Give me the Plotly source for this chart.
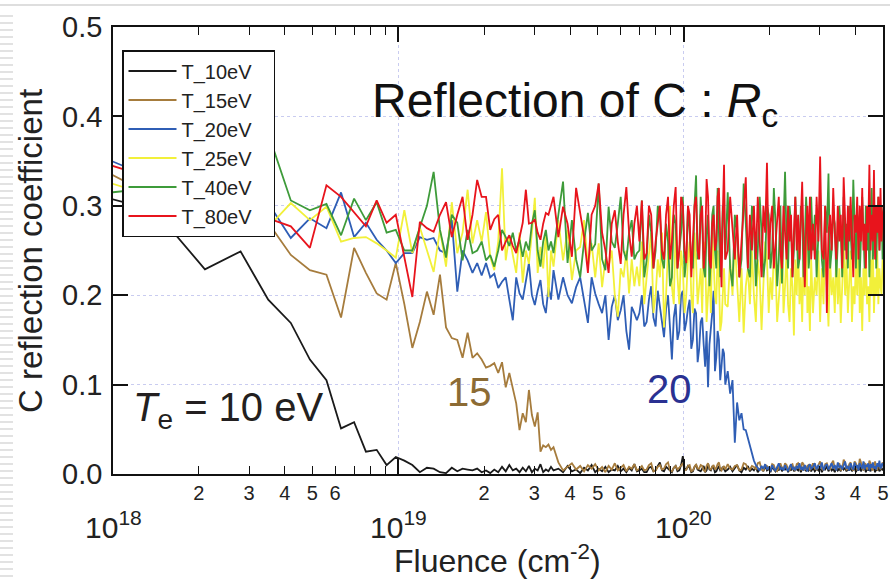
import plotly.graph_objects as go

# Fluence grid in units of 1e18 cm^-2
fluence_e18 = [
    0.7, 1.4, 2.1, 2.8, 3.5, 4.2, 4.9, 5.6, 6.3, 7.0, 7.7, 8.4, 9.1, 9.8, 10.5, 11.2, 11.9, 12.6, 13.3, 14.0,
    14.7, 15.4, 16.1, 16.8, 17.5, 18.2, 18.9, 19.6, 20.3, 21.0, 21.7, 22.4, 23.1, 23.8, 24.5, 25.2, 25.9, 26.6,
    27.3, 28.0, 28.7, 29.4, 30.1, 30.8, 31.5, 32.2, 32.9, 33.6, 34.3, 35.0,
    36.4, 37.8, 39.2, 40.6, 42.0, 43.4, 44.8, 46.2, 47.6, 49.0, 50.4, 51.8, 53.2, 54.6, 56.0, 57.4, 58.8, 60.2,
    61.6, 63.0, 64.4, 65.8, 67.2, 68.6,
    70.0, 71.4, 72.8, 74.2, 75.6, 77.0, 78.4, 79.8, 81.2, 82.6, 84.0, 85.4, 86.8, 88.2, 89.6, 91.0, 92.4,
    93.8, 95.2, 96.6, 98.0, 99.4, 100.8, 102.2, 103.6, 105.0, 106.4, 107.8, 109.2, 110.6, 112.0, 113.4, 114.8,
    116.2, 117.6, 119.0, 120.4, 121.8, 123.2, 124.6, 126.0, 127.4, 128.8, 130.2, 131.6, 133.0, 134.4, 135.8,
    137.2, 138.6, 140.0,
    142.8, 145.6, 148.4, 151.2, 154.0, 156.8, 159.6, 162.4, 165.2, 168.0, 170.8, 173.6, 176.4, 179.2, 182.0,
    184.8, 187.6, 190.4, 193.2, 196.0, 198.8, 201.6, 204.4, 207.2, 210.0, 212.8, 215.6, 218.4, 221.2, 224.0,
    226.8, 229.6, 232.4, 235.2, 238.0, 240.8, 243.6, 246.4, 249.2, 252.0, 254.8, 257.6, 260.4, 263.2, 266.0,
    268.8, 271.6, 274.4, 277.2, 280.0,
    284.2, 288.4, 292.6, 296.8, 301.0, 305.2, 309.4, 313.6, 317.8, 322.0, 326.2, 330.4, 334.6, 338.8, 343.0,
    347.2, 351.4, 355.6, 359.8, 364.0, 368.2, 372.4, 376.6, 380.8, 385.0, 389.2, 393.4, 397.6, 401.8, 406.0,
    410.2, 414.4, 418.6, 422.8, 427.0, 431.2, 435.4, 439.6, 443.8, 448.0, 452.2, 456.4, 460.6, 464.8, 469.0,
    473.2, 477.4, 481.6, 485.8, 490.0, 494.2, 498.4, 502.6,
]

r_10eV = [
    0.32, 0.295, 0.229, 0.249, 0.195, 0.169, 0.128, 0.105, 0.051, 0.058, 0.025, 0.027, 0.010, 0.019, 0.015,
    0.010, 0.002, 0.007, 0.006, 0.002, 0.001, 0.007, 0.003, 0.006, 0.005, 0.004, 0.006, 0.002, 0.004, 0.001,
    0.005, 0.002, 0.008, 0.003, 0.010, 0.004, 0.006, 0.002, 0.007, 0.003, 0.009, 0.002, 0.006, 0.004, 0.011,
    0.002, 0.005, 0.003, 0.008, 0.004,
    0.006, 0.002, 0.009, 0.003, 0.005, 0.001, 0.007, 0.004, 0.010, 0.002, 0.006, 0.003, 0.008, 0.002, 0.005,
    0.004, 0.009, 0.003, 0.006, 0.002, 0.007, 0.004, 0.011, 0.003,
    0.004, 0.006, 0.002, 0.002, 0.007, 0.008, 0.003, 0.004, 0.009, 0.013, 0.004, 0.003, 0.008, 0.006, 0.003,
    0.002, 0.007, 0.009, 0.003, 0.004, 0.010, 0.020, 0.006, 0.005, 0.009, 0.007, 0.002, 0.003, 0.008, 0.010,
    0.005, 0.004, 0.003, 0.006, 0.009, 0.002, 0.004, 0.012, 0.005, 0.004, 0.008, 0.007, 0.002, 0.003, 0.006,
    0.009, 0.004, 0.005, 0.008, 0.006, 0.003,
    0.005, 0.008, 0.003, 0.006, 0.010, 0.004, 0.002, 0.007, 0.005, 0.009, 0.003, 0.006, 0.004, 0.008, 0.002,
    0.005, 0.007, 0.003, 0.009, 0.004, 0.006, 0.002, 0.008, 0.005, 0.003, 0.007, 0.004, 0.010, 0.003, 0.006,
    0.005, 0.008, 0.002, 0.006, 0.004, 0.009, 0.003, 0.007, 0.005, 0.004, 0.008, 0.002, 0.006, 0.005, 0.009,
    0.003, 0.007, 0.004, 0.006, 0.003,
    0.007, 0.003, 0.006, 0.004, 0.008, 0.002, 0.006, 0.005, 0.009, 0.003, 0.007, 0.004, 0.006, 0.002, 0.008,
    0.004, 0.006, 0.003, 0.009, 0.005, 0.007, 0.003, 0.006, 0.004, 0.008, 0.003, 0.005, 0.007, 0.002, 0.006,
    0.004, 0.009, 0.003, 0.006, 0.005, 0.008, 0.002, 0.007, 0.004, 0.006, 0.003, 0.008, 0.005, 0.007, 0.002,
    0.006, 0.004, 0.009, 0.003, 0.005, 0.007, 0.004, 0.006,
]

r_15eV = [
    0.36, 0.31, 0.29, 0.272, 0.281, 0.245, 0.228, 0.223, 0.175, 0.253, 0.225, 0.202, 0.195, 0.236, 0.19,
    0.141, 0.17, 0.204, 0.178, 0.223, 0.164, 0.152, 0.150, 0.130, 0.158, 0.130, 0.135, 0.128, 0.119, 0.121,
    0.124, 0.113, 0.125, 0.097, 0.113, 0.095, 0.079, 0.049, 0.068, 0.058, 0.094, 0.066, 0.053, 0.069, 0.025,
    0.032, 0.030, 0.033, 0.027, 0.030,
    0.013, 0.004, 0.008, 0.012, 0.005, 0.009, 0.003, 0.010, 0.006, 0.011, 0.004, 0.008, 0.002, 0.009, 0.005,
    0.012, 0.004, 0.007, 0.010, 0.003, 0.008, 0.006, 0.011, 0.004,
    0.006, 0.009, 0.004, 0.005, 0.010, 0.012, 0.003, 0.004, 0.008, 0.010, 0.005, 0.006, 0.011, 0.013, 0.004,
    0.003, 0.007, 0.009, 0.005, 0.007, 0.010, 0.012, 0.004, 0.005, 0.009, 0.010, 0.003, 0.004, 0.008, 0.011,
    0.006, 0.006, 0.010, 0.009, 0.004, 0.003, 0.009, 0.012, 0.006, 0.005, 0.008, 0.010, 0.005, 0.007, 0.011,
    0.013, 0.006, 0.004, 0.007, 0.009, 0.005,
    0.011, 0.006, 0.005, 0.009, 0.010, 0.004, 0.005, 0.012, 0.011, 0.006, 0.005, 0.009, 0.008, 0.005, 0.012,
    0.013, 0.005, 0.004, 0.010, 0.009, 0.006, 0.005, 0.011, 0.010, 0.004, 0.003, 0.009, 0.012, 0.007, 0.006,
    0.012, 0.010, 0.005, 0.004, 0.010, 0.011, 0.005, 0.004, 0.011, 0.012, 0.006, 0.005, 0.013, 0.011, 0.005,
    0.006, 0.009, 0.010, 0.004, 0.008,
    0.012, 0.006, 0.005, 0.010, 0.014, 0.006, 0.004, 0.011, 0.012, 0.007, 0.005, 0.012, 0.015, 0.006, 0.005,
    0.010, 0.012, 0.004, 0.006, 0.016, 0.013, 0.005, 0.006, 0.011, 0.013, 0.006, 0.004, 0.014, 0.012, 0.005,
    0.006, 0.017, 0.013, 0.006, 0.005, 0.012, 0.011, 0.005, 0.007, 0.015, 0.012, 0.006, 0.004, 0.011, 0.014,
    0.006, 0.005, 0.012, 0.010, 0.005, 0.008, 0.013, 0.010,
]

r_20eV = [
    0.37, 0.33, 0.31, 0.29, 0.303, 0.264, 0.286, 0.275, 0.315, 0.265, 0.281, 0.262, 0.25, 0.236, 0.247,
    0.247, 0.265, 0.262, 0.264, 0.25, 0.247, 0.284, 0.204, 0.25, 0.239, 0.225, 0.236, 0.222, 0.236, 0.220,
    0.224, 0.208, 0.215, 0.220, 0.195, 0.172, 0.220, 0.202, 0.195, 0.215, 0.236, 0.200, 0.189, 0.205, 0.217,
    0.190, 0.180, 0.209, 0.195, 0.228,
    0.195, 0.220, 0.200, 0.191, 0.209, 0.220, 0.195, 0.169, 0.220, 0.202, 0.190, 0.180, 0.200, 0.150, 0.187,
    0.200, 0.172, 0.183, 0.200, 0.160, 0.139, 0.187, 0.180, 0.172,
    0.18, 0.200, 0.165, 0.170, 0.195, 0.210, 0.175, 0.165, 0.205, 0.190, 0.170, 0.153, 0.185, 0.200, 0.165,
    0.128, 0.175, 0.190, 0.150, 0.160, 0.200, 0.205, 0.160, 0.170, 0.185, 0.195, 0.140, 0.150, 0.185, 0.180,
    0.125, 0.140, 0.170, 0.175, 0.145, 0.120, 0.160, 0.097, 0.145, 0.160, 0.180, 0.205, 0.115, 0.130, 0.160,
    0.150, 0.105, 0.120, 0.140, 0.135, 0.100,
    0.115, 0.090, 0.105, 0.035, 0.080, 0.060, 0.068, 0.050, 0.049, 0.040, 0.030, 0.022, 0.015, 0.010, 0.007,
    0.004, 0.009, 0.006, 0.011, 0.005, 0.008, 0.003, 0.010, 0.006, 0.004, 0.009, 0.012, 0.005, 0.007, 0.004,
    0.010, 0.006, 0.003, 0.008, 0.011, 0.005, 0.007, 0.004, 0.009, 0.006, 0.012, 0.005, 0.008, 0.004, 0.010,
    0.006, 0.003, 0.009, 0.011, 0.006,
    0.008, 0.012, 0.005, 0.010, 0.006, 0.013, 0.004, 0.009, 0.011, 0.005, 0.008, 0.012, 0.006, 0.010, 0.004,
    0.013, 0.007, 0.009, 0.005, 0.011, 0.014, 0.006, 0.009, 0.004, 0.012, 0.008, 0.005, 0.013, 0.007, 0.010,
    0.004, 0.012, 0.009, 0.006, 0.014, 0.005, 0.010, 0.008, 0.012, 0.004, 0.011, 0.007, 0.013, 0.006, 0.009,
    0.005, 0.012, 0.008, 0.015, 0.006, 0.010, 0.012, 0.007,
]

r_25eV = [
    0.34, 0.31, 0.29, 0.28, 0.276, 0.303, 0.284, 0.299, 0.26, 0.264, 0.265, 0.258, 0.25, 0.242, 0.295,
    0.247, 0.276, 0.25, 0.226, 0.273, 0.232, 0.304, 0.247, 0.27, 0.318, 0.258, 0.284, 0.26, 0.293, 0.243,
    0.228, 0.26, 0.342, 0.239, 0.267, 0.245, 0.225, 0.27, 0.214, 0.25, 0.235, 0.27, 0.309, 0.225, 0.254,
    0.23, 0.27, 0.198, 0.25, 0.232,
    0.284, 0.239, 0.273, 0.217, 0.25, 0.254, 0.284, 0.232, 0.258, 0.22, 0.258, 0.209, 0.24, 0.232, 0.25,
    0.20, 0.176, 0.23, 0.220, 0.25, 0.202, 0.24, 0.21, 0.232,
    0.21, 0.26, 0.19, 0.22, 0.25, 0.27, 0.18, 0.2, 0.24, 0.22, 0.27, 0.164, 0.2, 0.25, 0.3,
    0.21, 0.19, 0.277, 0.22, 0.19, 0.25, 0.23, 0.18, 0.2, 0.24, 0.26, 0.2, 0.18, 0.27, 0.24,
    0.19, 0.21, 0.23, 0.18, 0.26, 0.25, 0.17, 0.2, 0.23, 0.18, 0.27, 0.24, 0.2, 0.19, 0.25,
    0.22, 0.16, 0.17, 0.21, 0.23, 0.19,
    0.187, 0.24, 0.2, 0.26, 0.22, 0.17, 0.23, 0.158, 0.21, 0.23, 0.19, 0.25, 0.2, 0.17, 0.24,
    0.22, 0.161, 0.21, 0.26, 0.24, 0.18, 0.22, 0.195, 0.25, 0.23, 0.17, 0.2, 0.22, 0.27, 0.18,
    0.21, 0.25, 0.19, 0.17, 0.23, 0.21, 0.155, 0.24, 0.2, 0.26, 0.19, 0.22, 0.17, 0.24, 0.2,
    0.28, 0.18, 0.21, 0.16, 0.24,
    0.18, 0.22, 0.2, 0.25, 0.17, 0.23, 0.19, 0.26, 0.21, 0.165, 0.24, 0.2, 0.22, 0.18, 0.25,
    0.19, 0.23, 0.169, 0.21, 0.26, 0.2, 0.24, 0.18, 0.22, 0.25, 0.17, 0.21, 0.19, 0.24, 0.2,
    0.27, 0.18, 0.22, 0.16, 0.23, 0.2, 0.25, 0.19, 0.21, 0.17, 0.24, 0.2, 0.26, 0.18, 0.22,
    0.2, 0.25, 0.19, 0.23, 0.21, 0.2, 0.24, 0.22,
]

r_40eV = [
    0.31, 0.32, 0.33, 0.36, 0.381, 0.306, 0.295, 0.302, 0.267, 0.308, 0.284, 0.304, 0.27, 0.273, 0.25,
    0.25, 0.276, 0.30, 0.338, 0.273, 0.242, 0.29, 0.281, 0.239, 0.273, 0.247, 0.25, 0.26, 0.239, 0.245,
    0.232, 0.25, 0.273, 0.265, 0.255, 0.27, 0.25, 0.262, 0.243, 0.26, 0.25, 0.28, 0.295, 0.25, 0.232,
    0.26, 0.273, 0.25, 0.26, 0.247,
    0.29, 0.327, 0.236, 0.284, 0.24, 0.22, 0.26, 0.292, 0.25, 0.257, 0.325, 0.24, 0.228, 0.299, 0.26,
    0.253, 0.28, 0.31, 0.25, 0.239, 0.27, 0.284, 0.24, 0.247,
    0.25, 0.306, 0.22, 0.239, 0.29, 0.27, 0.23, 0.25, 0.3, 0.29, 0.24, 0.23, 0.28, 0.26, 0.21,
    0.22, 0.29, 0.28, 0.23, 0.25, 0.27, 0.31, 0.22, 0.24, 0.3, 0.27, 0.24, 0.23, 0.3, 0.334,
    0.24, 0.25, 0.31, 0.28, 0.23, 0.22, 0.27, 0.29, 0.21, 0.24, 0.29, 0.30, 0.25, 0.23, 0.32,
    0.27, 0.22, 0.25, 0.3, 0.29, 0.24,
    0.315, 0.23, 0.21, 0.29, 0.27, 0.22, 0.24, 0.325, 0.28, 0.23, 0.22, 0.3, 0.28, 0.21, 0.25,
    0.31, 0.27, 0.22, 0.24, 0.3, 0.29, 0.23, 0.25, 0.32, 0.28, 0.21, 0.24, 0.3, 0.213, 0.27,
    0.338, 0.26, 0.23, 0.3, 0.28, 0.22, 0.25, 0.31, 0.27, 0.23, 0.24, 0.3, 0.29, 0.22, 0.26,
    0.31, 0.28, 0.23, 0.25, 0.31,
    0.25, 0.29, 0.22, 0.28, 0.315, 0.24, 0.22, 0.3, 0.27, 0.336, 0.23, 0.25, 0.29, 0.28, 0.22,
    0.26, 0.3, 0.27, 0.22, 0.31, 0.25, 0.28, 0.23, 0.3, 0.26, 0.24, 0.329, 0.27, 0.23, 0.29,
    0.28, 0.22, 0.26, 0.31, 0.27, 0.23, 0.3, 0.25, 0.29, 0.22, 0.28, 0.32, 0.24, 0.26, 0.3,
    0.23, 0.28, 0.31, 0.25, 0.27, 0.3, 0.24, 0.28,
]

r_80eV = [
    0.36, 0.33, 0.31, 0.30, 0.286, 0.277, 0.253, 0.323, 0.31, 0.292, 0.277, 0.306, 0.281, 0.29, 0.243,
    0.198, 0.282, 0.275, 0.271, 0.29, 0.304, 0.265, 0.29, 0.31, 0.262, 0.29, 0.329, 0.31, 0.31, 0.273,
    0.285, 0.29, 0.25, 0.26, 0.267, 0.255, 0.247, 0.265, 0.281, 0.318, 0.28, 0.281, 0.285, 0.27, 0.262,
    0.28, 0.292, 0.29, 0.30, 0.31,
    0.265, 0.299, 0.28, 0.243, 0.32, 0.29, 0.265, 0.225, 0.29, 0.30, 0.325, 0.27, 0.25, 0.225, 0.28,
    0.295, 0.26, 0.235, 0.29, 0.321, 0.27, 0.243, 0.28, 0.30,
    0.26, 0.306, 0.24, 0.247, 0.3, 0.29, 0.23, 0.26, 0.28, 0.30, 0.25, 0.24, 0.29, 0.31, 0.24,
    0.26, 0.3, 0.321, 0.23, 0.25, 0.31, 0.30, 0.25, 0.236, 0.3, 0.29, 0.22, 0.26, 0.3, 0.31,
    0.25, 0.24, 0.29, 0.30, 0.23, 0.25, 0.33, 0.31, 0.24, 0.23, 0.28, 0.29, 0.25, 0.26, 0.31,
    0.32, 0.25, 0.209, 0.29, 0.346, 0.24,
    0.25, 0.31, 0.27, 0.24, 0.29, 0.22, 0.26, 0.30, 0.332, 0.23, 0.29, 0.25, 0.3, 0.24, 0.31,
    0.26, 0.22, 0.3, 0.27, 0.348, 0.24, 0.28, 0.3, 0.23, 0.26, 0.29, 0.31, 0.25, 0.23, 0.3,
    0.27, 0.24, 0.3, 0.26, 0.29, 0.22, 0.27, 0.31, 0.25, 0.29, 0.24, 0.28, 0.327, 0.26, 0.209,
    0.27, 0.3, 0.25, 0.31, 0.24,
    0.28, 0.24, 0.31, 0.26, 0.355, 0.25, 0.24, 0.3, 0.18, 0.27, 0.29, 0.25, 0.32, 0.27, 0.24,
    0.3, 0.26, 0.29, 0.23, 0.332, 0.28, 0.24, 0.3, 0.26, 0.31, 0.25, 0.22, 0.29, 0.27, 0.31,
    0.24, 0.3, 0.26, 0.32, 0.25, 0.28, 0.23, 0.3, 0.27, 0.346, 0.25, 0.29, 0.26, 0.34, 0.24,
    0.3, 0.27, 0.31, 0.25, 0.32, 0.26, 0.29, 0.3,
]

series_names = ["T_10eV", "T_15eV", "T_20eV", "T_25eV", "T_40eV", "T_80eV"]
series_values = [r_10eV, r_15eV, r_20eV, r_25eV, r_40eV, r_80eV]
series_colors = ["#1a1a1a", "#A67C3D", "#2F5EB5", "#F2F03A", "#3E9B3A", "#E8141C"]

minor_labels = ["2", "3", "4", "5", "6", "", "", ""]
decades = [1e18, 1e19, 1e20]

FONT = "Liberation Sans, Arial, sans-serif"
W, H = 890, 581
L, R, T, B = 113, 7, 27, 107
PW, PH = W - L - R, H - T - B


def px_x(px):
    return (px - L) / PW


def px_y(py):
    return (H - B - py) / PH


fluence = [f * 1e18 for f in fluence_e18]

fig = go.Figure()
for name, vals, col in zip(series_names, series_values, series_colors):
    # trailing no-break spaces only widen the legend box to the reference's width
    fig.add_trace(go.Scatter(x=fluence, y=vals, mode="lines", name=name + "\u00a0" * 3,
                             line=dict(color=col, width=1.8)))

tickvals, ticktext = [], []
for d in decades:
    for m, lab in zip(range(2, 10), minor_labels):
        v = m * d
        if v <= 5e20 * 1.0001:
            tickvals.append(v)
            ticktext.append(lab)

fig.update_layout(
    width=W, height=H,
    margin=dict(l=L, r=R, t=T, b=B),
    paper_bgcolor="white", plot_bgcolor="white",
    font=dict(family=FONT, color="#222222"),
    showlegend=True,
    legend=dict(x=px_x(122), y=px_y(50), xanchor="left", yanchor="top",
                bgcolor="white", bordercolor="#111111", borderwidth=1.5,
                font=dict(size=20, family=FONT, color="#222222"),
                itemwidth=48, tracegroupgap=0),
    xaxis=dict(type="log", range=[18, 20.69897], showline=True, linecolor="#111111", linewidth=1.5,
               mirror="ticks", ticks="inside", ticklen=8, tickwidth=1.3, tickcolor="#111111",
               tickmode="array", tickvals=tickvals, ticktext=ticktext, automargin=False,
               tickfont=dict(size=20, family=FONT, color="#222222"),
               showgrid=False, zeroline=False, ticklabelstandoff=0,
               minor=dict(tickmode="array", tickvals=decades, ticks="inside", ticklen=15,
                          tickwidth=1.5, tickcolor="#111111", showgrid=True,
                          gridcolor="#C9CCF0", griddash="dot", gridwidth=1)),
    yaxis=dict(range=[0, 0.5], dtick=0.1, tickformat=".1f", showline=True, linecolor="#111111",
               linewidth=1.5, mirror="ticks", ticks="inside", ticklen=15, tickwidth=1.5,
               tickcolor="#111111", tickfont=dict(size=29, family=FONT, color="#222222"),
               showgrid=True, gridcolor="#C9CCF0", griddash="dot", gridwidth=1, zeroline=False,
               ticklabelstandoff=3, automargin=False),
)

annotations = [
    dict(text="Reflection of C : <i>R</i><sub>c</sub>", xref="paper", yref="paper", x=px_x(370), y=px_y(104),
         xanchor="left", yanchor="middle", showarrow=False, font=dict(size=48, family=FONT, color="#111111")),
    dict(text="<i>T</i><sub>e</sub> = 10 eV", xref="paper", yref="paper", x=px_x(131), y=px_y(410),
         xanchor="left", yanchor="middle", showarrow=False, font=dict(size=40, family=FONT, color="#231f20")),
    dict(text="15", xref="paper", yref="paper", x=px_x(445), y=px_y(392), xanchor="left", yanchor="middle",
         showarrow=False, font=dict(size=40, family=FONT, color="#8C6B34")),
    dict(text="20", xref="paper", yref="paper", x=px_x(645), y=px_y(389), xanchor="left", yanchor="middle",
         showarrow=False, font=dict(size=40, family=FONT, color="#2A3192")),
    dict(text="C reflection coefficient", xref="paper", yref="paper", x=px_x(30), y=px_y(251),
         xanchor="center", yanchor="middle", textangle=-90, showarrow=False,
         font=dict(size=33, family=FONT, color="#222222")),
    dict(text="Fluence (cm<sup>-2</sup>)", xref="paper", yref="paper", x=px_x(497), y=px_y(559),
         xanchor="center", yanchor="middle", showarrow=False,
         font=dict(size=32, family=FONT, color="#222222")),
]
for d, e in zip([18, 19, 20], ["18", "19", "20"]):
    annotations.append(dict(text="10<sup>" + e + "</sup>", xref="x", yref="paper", x=d, y=px_y(525),
                            xanchor="center", yanchor="middle", showarrow=False,
                            font=dict(size=30, family=FONT, color="#222222")))
fig.update_layout(annotations=annotations)

# page decoration seen in the reference screenshot: thin grey rule on top and a ruler strip on the left
fig.add_shape(type="line", xref="paper", yref="paper", x0=px_x(0), x1=px_x(890), y0=px_y(5), y1=px_y(5),
              line=dict(color="#dedede", width=2))
ruler = "".join("M{:.5f},{:.5f} H{:.5f} ".format(px_x(0), px_y(py), px_x(13)) for py in range(16, 581, 7))
fig.add_shape(type="path", xref="paper", yref="paper", path=ruler, line=dict(color="#d9d9d9", width=1.5))

fig.write_html("out.html", config={"displayModeBar": False},
               post_script="document.body.style.margin='0px';"
                           "document.documentElement.style.overflow='hidden';")
